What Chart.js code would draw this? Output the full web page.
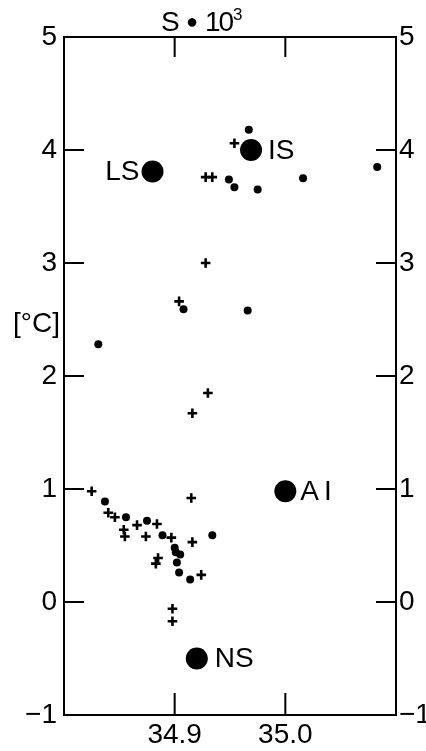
<!DOCTYPE html>
<html><head><meta charset="utf-8">
<script src="https://cdn.jsdelivr.net/npm/chart.js@4/dist/chart.umd.min.js"></script>
<style>html,body{margin:0;padding:0;background:#fff;}#wrap{width:426px;height:751px;position:relative}</style>
</head><body><div id="wrap"><canvas id="c" width="426" height="751"></canvas></div>
<script>
// Salinity (S, x) and temperature (T, y) of the small filled dots
const dotS = [34.967, 34.949, 34.954, 34.975, 35.016, 35.083, 34.908, 34.966, 34.831,
  34.837, 34.856, 34.875, 34.889, 34.934, 34.900, 34.901, 34.905, 34.902, 34.904, 34.914];
const dotT = [4.18, 3.74, 3.67, 3.65, 3.75, 3.85, 2.59, 2.58, 2.28,
  0.89, 0.75, 0.72, 0.59, 0.59, 0.48, 0.44, 0.42, 0.35, 0.26, 0.20];
// Salinity and temperature of the plus markers
const plusS = [34.954, 34.928, 34.934, 34.928, 34.904, 34.930, 34.916, 34.825, 34.915, 34.840,
  34.846, 34.854, 34.855, 34.866, 34.884, 34.874, 34.897, 34.916, 34.885, 34.883, 34.924, 34.898, 34.898];
const plusT = [4.06, 3.76, 3.76, 3.00, 2.66, 1.85, 1.67, 0.98, 0.92, 0.79,
  0.75, 0.64, 0.58, 0.68, 0.69, 0.58, 0.57, 0.53, 0.39, 0.34, 0.24, -0.06, -0.17];
// Named water masses (big markers)
const massNames = ['LS', 'IS', 'AI', 'NS'];
const massS = [34.880, 34.969, 35.000, 34.920];
const massT = [3.81, 4.00, 0.98, -0.50];
// Axis ticks
const xTicks = [34.9, 35.0];
const yTicks = [-1, 0, 1, 2, 3, 4, 5];
const yTitle = '[°C]';

const FONT = '"Liberation Sans", Arial, sans-serif';
const pts = (xs, ys) => xs.map((s, i) => ({x: s, y: ys[i]}));

const inwardTicks = {
  id: 'inwardTicks',
  afterDraw(chart) {
    const c = chart.ctx, a = chart.chartArea, sx = chart.scales.x, sy = chart.scales.y;
    c.save();
    c.strokeStyle = '#000'; c.lineWidth = 2;
    c.beginPath();
    xTicks.forEach(v => {
      const px = sx.getPixelForValue(v);
      c.moveTo(px, a.bottom); c.lineTo(px, a.bottom - 22);
      c.moveTo(px, a.top); c.lineTo(px, a.top + 20);
    });
    yTicks.forEach(v => {
      const py = sy.getPixelForValue(v);
      c.moveTo(a.left, py); c.lineTo(a.left + 20, py);
      c.moveTo(a.right, py); c.lineTo(a.right - 20, py);
    });
    c.stroke();
    // labels
    c.fillStyle = '#000';
    c.textBaseline = 'middle';
    c.font = '28px ' + FONT;
    massNames.forEach((n, i) => {
      const px = sx.getPixelForValue(massS[i]);
      const py = sy.getPixelForValue(massT[i]);
      if (n === 'LS') { c.textAlign = 'right'; c.letterSpacing = '0px'; c.fillText(n, px - 13, py + 1); }
      else if (n === 'AI') { c.textAlign = 'left'; c.letterSpacing = '5px'; c.fillText(n, px + 15, py + 1); }
      else { c.textAlign = 'left'; c.letterSpacing = '0px'; c.fillText(n, px + (n === 'IS' ? 17 : 18), py + 1); }
    });
    c.letterSpacing = '0px';
    c.textAlign = 'left';
    // title S • 10^3
    c.textBaseline = 'alphabetic';
    c.font = '28px ' + FONT;
    c.fillText('S', 161, 31);
    c.font = '20px ' + FONT;
    c.fillText('●', 186, 28);
    c.font = '28px ' + FONT;
    c.letterSpacing = '-2px';
    c.fillText('10', 205, 31);
    c.letterSpacing = '0px';
    c.font = '17px ' + FONT;
    c.fillText('3', 233, 20);
    c.font = '28px ' + FONT;
    c.textBaseline = 'middle';
    c.fillText(yTitle, 13, 324);
    c.restore();
  }
};

const axisCommon = {
  type: 'linear',
  grid: {display: false, drawTicks: false},
  border: {display: true, color: '#000', width: 2},
};
const tickFont = {family: FONT, size: 28};

new Chart(document.getElementById('c'), {
  type: 'scatter',
  data: {datasets: [
    {data: pts(dotS, dotT), pointStyle: 'circle', pointRadius: 4, backgroundColor: '#000', borderColor: '#000', borderWidth: 0},
    {data: pts(plusS, plusT), pointStyle: 'cross', pointRadius: 4.8, backgroundColor: '#000', borderColor: '#000', borderWidth: 2.6},
    {data: pts(massS, massT), pointStyle: 'circle', pointRadius: 11, backgroundColor: '#000', borderColor: '#000', borderWidth: 0}
  ]},
  options: {
    responsive: false, animation: false, devicePixelRatio: 1,
    layout: {padding: 0},
    plugins: {legend: {display: false}, tooltip: {enabled: false}},
    scales: {
      x: {...axisCommon, position: 'bottom', min: 34.8, max: 35.1,
        afterBuildTicks: s => { s.ticks = xTicks.map(v => ({value: v})); },
        ticks: {callback: v => Number(v).toFixed(1), font: tickFont, color: '#000', padding: 3, maxRotation: 0, autoSkip: false},
        afterFit: s => { s.height = 36; }},
      x2: {...axisCommon, position: 'top', min: 34.8, max: 35.1,
        ticks: {display: false},
        afterFit: s => { s.height = 37; }},
      y: {...axisCommon, position: 'left', min: -1, max: 5,
        afterBuildTicks: s => { s.ticks = yTicks.map(v => ({value: v})); },
        ticks: {callback: v => v < 0 ? '\u2212' + Math.abs(v) : String(v), font: tickFont, color: '#000', padding: 7, autoSkip: false},
        afterFit: s => { s.width = 64; }},
      y2: {...axisCommon, position: 'right', min: -1, max: 5,
        afterBuildTicks: s => { s.ticks = yTicks.map(v => ({value: v})); },
        ticks: {callback: v => v < 0 ? '\u2212' + Math.abs(v) : String(v), font: tickFont, color: '#000', padding: 3, autoSkip: false},
        afterFit: s => { s.width = 30; }}
    }
  },
  plugins: [inwardTicks]
});
</script>
</body></html>
